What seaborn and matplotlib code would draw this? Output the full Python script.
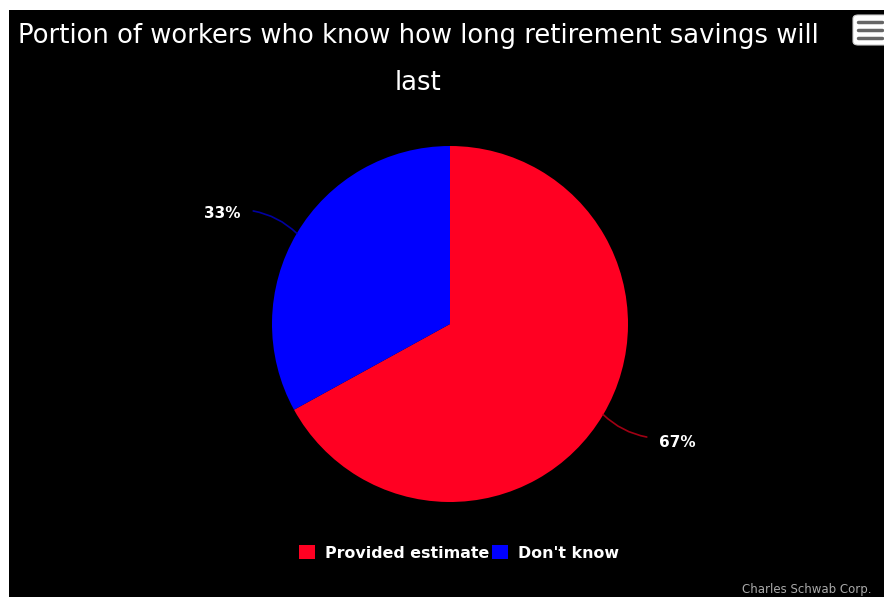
import numpy as np
import matplotlib
matplotlib.use("Agg")
import matplotlib.pyplot as plt
import matplotlib.patches as mpatches
from matplotlib.lines import Line2D
import seaborn as sns

# ---- data ----
categories = ["Provided estimate", "Don't know"]
values = [67, 33]
labels = ["67%", "33%"]
colors = ["#FF0022", "#0000FF"]
line_colors = ["#A00014", "#0000A0"]
title_lines = ["Portion of workers who know how long retirement savings will", "last"]
credit = "Charles Schwab Corp."

sns.set_theme(style="dark")
plt.rcParams["font.family"] = ["DejaVu Sans"]

W, H = 884, 597
fig = plt.figure(figsize=(W / 100, H / 100), dpi=100)
fig.patch.set_facecolor("white")

# black chart area (white margin on top and left)
fig.patches.append(mpatches.Rectangle((9 / W, 0), 1, (H - 10) / H,
                                      transform=fig.transFigure,
                                      facecolor="black", edgecolor="none", zorder=-10))

R = 178.0
cx, cy = 450.0, 324.0
half = 250.0
ax = fig.add_axes([(cx - half) / W, (H - cy - half) / H, 2 * half / W, 2 * half / H])
ax.set_zorder(1)
ax.set_facecolor("none")
ax.patch.set_alpha(0)
ax.axis("off")

wedges, _ = ax.pie(values, colors=colors, startangle=90, counterclock=False,
                   radius=1.0, wedgeprops=dict(linewidth=0))
ax.set_xlim(-half / R, half / R)
ax.set_ylim(-half / R, half / R)
ax.set_aspect("equal")

for w, lab, lc in zip(wedges, labels, line_colors):
    a = np.deg2rad((w.theta1 + w.theta2) / 2)
    x0, y0 = np.cos(a), np.sin(a)
    sx, sy = np.sign(x0), np.sign(y0)
    x1, y1 = 1.11 * x0 + sx * 0.15, 1.11 * y0 + 0.07 * sy
    ax.annotate("", xy=(x0, y0), xytext=(x1, y1),
                arrowprops=dict(arrowstyle="-", color=lc, lw=1.2,
                                shrinkA=0, shrinkB=0,
                                connectionstyle="arc3,rad=%.2f" % (0.15 * sx * sy)),
                annotation_clip=False)
    ty = y1 - 0.012 - (0.018 if y0 < 0 else 0.0)
    ax.text(x1 + sx * 0.07, ty, lab, color="white", fontsize=11,
            fontweight="bold", ha="left" if sx > 0 else "right", va="center")

fig.text(418 / W, 1 - 36 / H, title_lines[0], color="white", fontsize=18.6,
         ha="center", va="center")
fig.text(418 / W, 1 - 83 / H, title_lines[1], color="white", fontsize=18.6,
         ha="center", va="center")

# legend
handles = [mpatches.Patch(facecolor=c, edgecolor="none") for c in colors]
leg = fig.legend(handles, categories, loc="center", bbox_to_anchor=(459 / W, 1 - 553 / H),
                 ncol=2, frameon=False, handlelength=1.0, handleheight=1.0,
                 handletextpad=0.6, columnspacing=0.2, fontsize=11.4)
for t in leg.get_texts():
    t.set_color("white")
    t.set_fontweight("bold")

# credit
fig.text(742 / W, 1 / H, credit, color="#AAAAAA", fontsize=8.5, ha="left", va="bottom")

# menu icon
fig.patches.append(mpatches.FancyBboxPatch((853 / W, 1 - 45 / H), 40 / W, 30 / H,
                                           boxstyle="round,pad=0,rounding_size=0.006",
                                           transform=fig.transFigure, facecolor="white",
                                           edgecolor="#cccccc", lw=0.8, zorder=5))
for yy in (22, 30, 38):
    fig.lines.append(Line2D([858 / W, 882 / W], [1 - yy / H, 1 - yy / H],
                            transform=fig.transFigure, color="#666666", lw=2.5,
                            solid_capstyle="round", zorder=6))

fig.savefig("out.png", dpi=100, facecolor=fig.get_facecolor())
